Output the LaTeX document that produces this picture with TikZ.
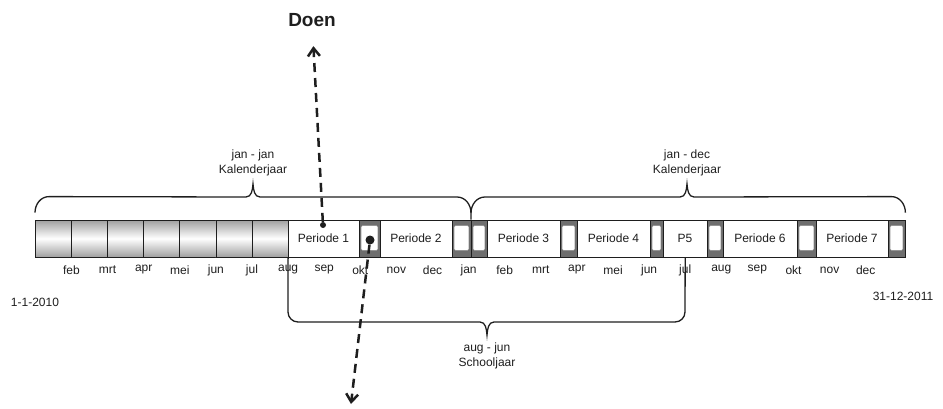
\documentclass[tikz,border=0pt]{standalone}
\usepackage{fontspec}
\setmainfont{Liberation Sans}
\usepackage{tikz}
\usetikzlibrary{arrows.meta,positioning,calc}
\definecolor{ink}{HTML}{1E1E1E}
\definecolor{donker}{HTML}{6E6E6E}
\definecolor{cel}{HTML}{A0A0A0}

\begin{document}
\begin{tikzpicture}[x=1pt,y=1pt,>={Straight Barb[length=8pt,width=12pt]},
   maand/.style={draw=ink,line width=0.8pt,top color=cel,bottom color=cel,middle color=white,minimum width=36.1pt,minimum height=37pt,inner sep=0pt},
   periode/.style={draw=ink,line width=0.8pt,fill=white,minimum height=37pt,inner sep=0pt,text=ink,font=\fontsize{12}{12}\selectfont},
   tussen/.style={draw=ink,line width=0.8pt,fill=donker,minimum height=37pt,inner sep=0pt},
   lbl/.style={text=ink,align=center,font=\fontsize{12}{15}\selectfont},
   klamp/.style={draw=ink,line width=1.3pt},
   pijl/.style={->,ink,line width=2.5pt,dash pattern=on 9pt off 6pt}]
  \useasboundingbox (0,0) rectangle (943,408);
  % maanden 2010 (grijs)
  \foreach \i in {0,...,6}
     \node[maand] (c\i) at (53.45+36.1*\i,169.5) {};
  % periodes
  \foreach \a/\b/\nm/\txt in {288/359/p1/Periode 1,380/452/p2/Periode 2,487/560/p3/Periode 3,
      577/650/p4/Periode 4,663/707/p5/P5,723/797/p6/Periode 6,816/888/p7/Periode 7}{
     \pgfmathsetmacro{\w}{\b-\a}
     \node[periode,minimum width=\w pt] (\nm) at ({(\a+\b)/2},169.5) {\txt};}
  % tussenstukken
  \foreach \a/\b [count=\i] in {359/380,452/471,471/487,560/577,650/663,707/723,797/816,888/905}{
     \pgfmathsetmacro{\w}{\b-\a}
     \node[tussen,minimum width=\w pt] (s\i) at ({(\a+\b)/2},169.5) {};
     \draw[fill=white,draw=ink!50,rounded corners=1.5pt] ($(s\i.north west)+(2.5,-6)$) rectangle ($(s\i.south east)+(-2.5,7)$);}
  % maandnamen
  \foreach \m [count=\i from 0] in {feb,mrt,apr,mei,jun,jul,aug,sep,okt,nov,dec,jan,feb,mrt,apr,mei,jun,jul,aug,sep,okt,nov,dec}
     \node[lbl] (m\i) at (71.5+36.1*\i,138) {\m};
  \node[lbl] (begin) at (35,106) {1-1-2010};
  \node[lbl] (eind) at (903,112) {31-12-2011};

  % kalenderjaren
  \coordinate (kl) at ($(c0.north west)+(0,7)$);
  \coordinate (kj) at (471,195);
  \coordinate (kr) at ($(s8.north east)+(0,7)$);
  \coordinate (tl) at (253,224);
  \coordinate (tr) at (687,224);
  \draw[klamp] (kl) to[out=90,in=180] ++(14,16) -- ($(tl)+(-7,-13)$) to[out=0,in=-95] (tl)
     to[out=-85,in=180] ($(tl)+(7,-13)$) -- ($(kj)+(-14,16)$) to[out=0,in=90] (kj) -- (kj|-s2.north);
  \draw[klamp] (kj) to[out=90,in=180] ++(14,16) -- ($(tr)+(-7,-13)$) to[out=0,in=-95] (tr)
     to[out=-85,in=180] ($(tr)+(7,-13)$) -- ($(kr)+(-14,16)$) to[out=0,in=90] (kr);
  \node[lbl,above=4pt of tl] (jj) {jan - jan\\Kalenderjaar};
  \node[lbl,above=4pt of tr] (jd) {jan - dec\\Kalenderjaar};

  % schooljaar
  \coordinate (ts) at (487,73);
  \draw[klamp] (m6|-c6.south) -- (288,96) to[out=-90,in=180] (298,86) -- ($(ts)+(-7,13)$) to[out=0,in=95] (ts)
     to[out=85,in=180] ($(ts)+(7,13)$) -- (675,86) to[out=0,in=-90] (685,96) -- (m17|-c6.south);
  \node[lbl,below=4pt of ts] (sj) {aug - jun\\Schooljaar};

  % pijlen
  \node[font=\bfseries\fontsize{19}{19}\selectfont,text=ink] (doen) at (312,388) {Doen};
  \node[circle,fill=ink,inner sep=0pt,minimum size=6pt] (d1) at (323,183) {};
  \node[circle,fill=ink,inner sep=0pt,minimum size=9pt] (d2) at (370,168) {};
  \coordinate (neer) at (351,4);
  \draw[pijl,shorten >=16pt] (d1) -- (doen);
  \draw[pijl] (d2) -- (neer);
\end{tikzpicture}
\end{document}
